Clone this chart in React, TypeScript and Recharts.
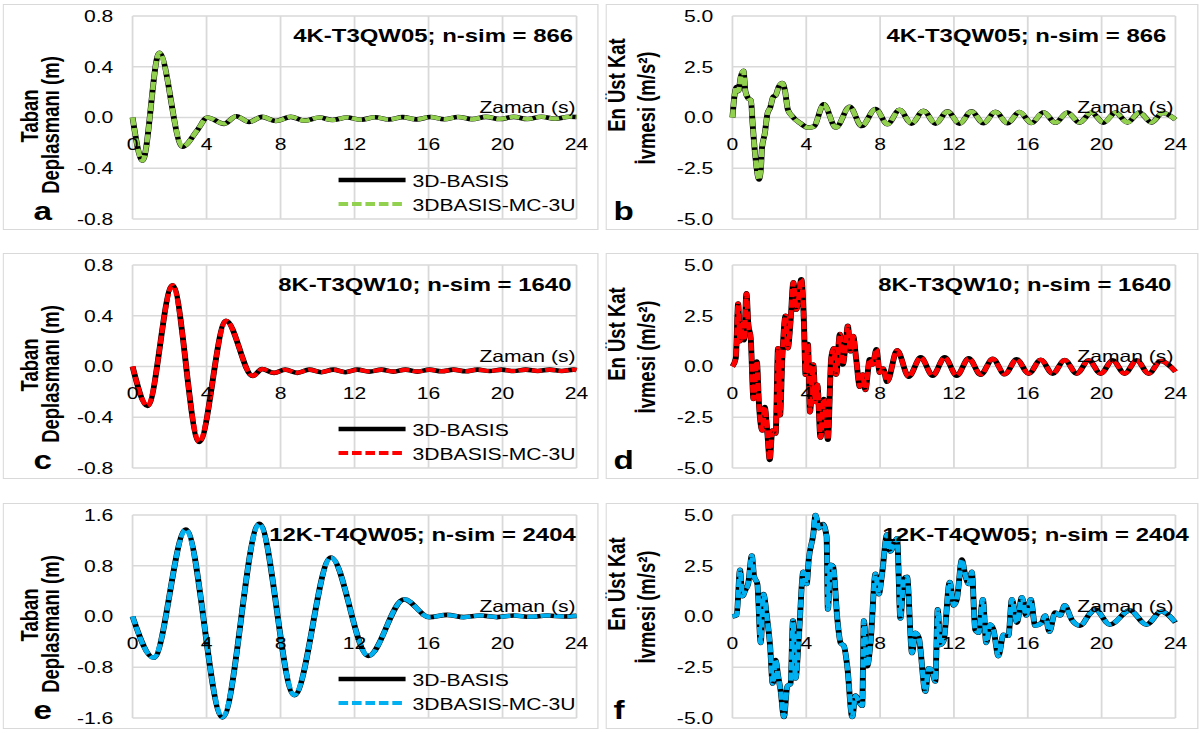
import React from 'react';
import { LineChart, Line, XAxis, YAxis, CartesianGrid } from 'recharts';

// the exported figure is stretched sideways, so everything is laid out narrow and scaled on x
const S = 1.28;
const px = (v: number) => v / S;
const FONT = '"Liberation Sans", Arial, sans-serif';

const TIME_TICKS = [0, 4, 8, 12, 16, 20, 24];
const DISP_TICKS = [-0.8, -0.4, 0, 0.4, 0.8];
const DISP_TICKS_12K = [-1.6, -0.8, 0, 0.8, 1.6];
const ACC_TICKS = [-5, -2.5, 0, 2.5, 5];

const SERIES_NAMES = ['3D-BASIS', '3DBASIS-MC-3U'];

// both programs give the same trace at this resolution, so one trace per panel is read
// a: 4K-T3QW05 base displacement (m)
const aTime = [0, 0.54, 1.44, 2.7, 3.5, 4.05, 4.95, 5.6, 6.3, 7.0, 7.75, 8.55, 9.3, 10.1, 10.8, 11.6, 12.35, 13.1, 13.85, 14.6, 15.35, 16.1, 16.85, 17.6, 18.35, 19.1, 19.85, 20.6, 21.35, 22.1, 22.85, 23.6, 24];
const aDisp = [0, -0.34, 0.51, -0.23, -0.1, 0.0, -0.05, 0.01, -0.035, 0.005, -0.027, 0.005, -0.025, 0.0, -0.02, 0.0, -0.018, 0.002, -0.016, 0.003, -0.015, 0.004, -0.014, 0.004, -0.013, 0.005, -0.012, 0.005, -0.012, 0.006, -0.01, 0.006, 0.004];

// b: 4K-T3QW05 top floor acceleration (m/s2)
const bTime = [0, 0.1, 0.22, 0.32, 0.45, 0.6, 0.7, 0.85, 1.0, 1.1, 1.25, 1.44, 1.55, 1.6, 1.75, 1.9, 2.05, 2.2, 2.35, 2.5, 2.7, 2.85, 3.0, 3.2, 3.7, 4.1, 4.4, 4.95, 5.6, 6.35, 7.0, 7.75, 8.4, 9.05, 9.7, 10.35, 11.0, 11.65, 12.3, 12.95, 13.6, 14.25, 14.9, 15.55, 16.2, 16.85, 17.5, 18.15, 18.8, 19.45, 20.1, 20.75, 21.4, 22.05, 22.7, 23.3, 24];
const bAcc = [0, 1.0, 1.5, 1.3, 2.0, 2.3, 1.3, 0.95, 0.85, -0.4, -2.0, -3.05, -2.4, -1.5, -0.8, 0.2, 0.5, 1.0, 1.1, 1.5, 1.7, 1.3, 0.4, 0.1, -0.3, -0.5, -0.45, 0.65, -0.5, 0.53, -0.42, 0.42, -0.33, 0.38, -0.3, 0.33, -0.3, 0.3, -0.3, 0.3, -0.28, 0.28, -0.28, 0.27, -0.27, 0.26, -0.26, 0.25, -0.25, 0.25, -0.25, 0.24, -0.24, 0.24, -0.24, 0.22, -0.1];

// c: 8K-T3QW10 base displacement (m)
const cTime = [0, 0.81, 2.16, 3.6, 5.05, 6.5, 7.0, 7.65, 8.25, 8.9, 9.55, 10.2, 10.85, 11.5, 12.15, 12.8, 13.45, 14.1, 14.75, 15.4, 16.05, 16.7, 17.35, 18.0, 18.65, 19.3, 19.95, 20.6, 21.25, 21.9, 22.55, 23.2, 23.85, 24];
const cDisp = [0, -0.31, 0.64, -0.595, 0.36, -0.075, -0.02, -0.05, -0.025, -0.05, -0.025, -0.045, -0.025, -0.045, -0.025, -0.04, -0.025, -0.04, -0.025, -0.04, -0.025, -0.038, -0.025, -0.038, -0.025, -0.036, -0.025, -0.036, -0.025, -0.035, -0.025, -0.035, -0.025, -0.028];

// d: 8K-T3QW10 top floor acceleration (m/s2)
const dTime = [0, 0.18, 0.31, 0.41, 0.54, 0.63, 0.76, 0.86, 0.99, 1.14, 1.32, 1.44, 1.62, 1.75, 1.89, 2.02, 2.16, 2.34, 2.47, 2.58, 2.7, 2.88, 3.0, 3.15, 3.3, 3.46, 3.57, 3.73, 3.87, 3.96, 4.09, 4.2, 4.38, 4.5, 4.6, 4.77, 4.95, 5.06, 5.17, 5.35, 5.5, 5.62, 5.82, 5.98, 6.13, 6.25, 6.4, 6.54, 6.7, 6.9, 7.06, 7.2, 7.44, 7.6, 7.8, 7.98, 8.16, 8.38, 8.92, 9.55, 10.2, 10.85, 11.5, 12.15, 12.8, 13.45, 14.1, 14.75, 15.4, 16.05, 16.7, 17.35, 18.0, 18.65, 19.3, 19.95, 20.6, 21.25, 21.9, 22.55, 23.2, 24];
const dAcc = [0, 0.4, 3.1, 1.25, 2.1, 1.3, 3.6, 2.1, 1.4, -1.6, 0.25, -1.9, -3.15, -2.0, -3.25, -4.6, -3.15, -3.3, 0.9, -2.4, 0.4, 2.5, 0.9, 2.25, 4.15, 2.8, 3.25, 4.3, 2.25, -0.4, 1.1, -2.25, 0.1, -1.75, -0.9, -3.5, -1.6, -2.4, -3.6, 0.4, 0.9, -0.4, 1.6, 0.1, 1.1, 2.0, 0.75, 1.5, 0.4, -1.0, -0.4, -1.15, 0.35, 0.1, 0.85, -0.3, -0.1, -0.75, 0.8, -0.5, 0.45, -0.45, 0.45, -0.45, 0.4, -0.4, 0.38, -0.38, 0.35, -0.35, 0.33, -0.35, 0.32, -0.35, 0.3, -0.35, 0.3, -0.35, 0.3, -0.35, 0.27, -0.25];

// e: 12K-T4QW05 base displacement (m)
const eTime = [0, 1.14, 2.88, 4.86, 6.85, 8.74, 10.72, 12.74, 14.68, 16.04, 17.0, 17.9, 18.8, 19.7, 20.6, 21.5, 22.4, 23.3, 24];
const eDisp = [0, -0.65, 1.37, -1.59, 1.46, -1.24, 0.93, -0.62, 0.27, -0.01, 0.025, -0.01, 0.015, -0.01, 0.015, -0.005, 0.015, 0.0, 0.01];

// f: 12K-T4QW05 top floor acceleration (m/s2)
const fTime = [0, 0.23, 0.41, 0.54, 0.72, 0.85, 1.05, 1.17, 1.35, 1.53, 1.68, 1.86, 2.04, 2.18, 2.34, 2.47, 2.61, 2.79, 2.97, 3.15, 3.28, 3.42, 3.6, 3.84, 4.02, 4.14, 4.38, 4.5, 4.68, 4.9, 5.1, 5.17, 5.32, 5.46, 5.68, 5.86, 6.04, 6.22, 6.49, 6.67, 6.85, 7.03, 7.12, 7.3, 7.48, 7.75, 7.93, 8.1, 8.38, 8.56, 8.74, 8.92, 9.1, 9.28, 9.46, 9.73, 9.91, 10.1, 10.45, 10.63, 10.81, 10.99, 11.12, 11.26, 11.44, 11.77, 11.98, 12.16, 12.43, 12.61, 12.8, 12.97, 13.15, 13.33, 13.57, 13.75, 13.96, 14.14, 14.41, 14.68, 14.95, 15.14, 15.41, 15.68, 15.91, 16.16, 16.4, 16.76, 16.94, 17.17, 17.48, 17.75, 18.0, 18.38, 18.83, 19.37, 19.64, 20.45, 21.53, 22.43, 23.24, 24];
const fAcc = [0, 0.07, 2.3, 1.0, 1.35, 1.6, 3.0, 2.0, 1.6, -1.3, 1.1, 0.05, -1.45, -3.3, -2.15, -2.9, -3.65, -4.95, -3.45, -3.3, -0.2, -3.05, -0.95, 2.2, 1.6, 2.85, 4.05, 5.0, 4.35, 4.55, 3.95, 0.35, 2.55, 2.45, -0.1, -1.3, -1.45, -2.45, -4.95, -3.9, -4.2, -4.4, -0.2, -2.45, -1.3, 2.1, 1.1, 2.05, 4.05, 3.2, 3.55, 3.85, -0.1, 1.85, 1.95, -1.8, -0.8, -1.05, -3.7, -2.55, -2.65, -3.2, 0.35, -1.4, -1.2, 1.7, 0.55, 0.85, 2.8, 2.05, 1.6, 2.2, -0.65, -0.8, 0.85, -1.3, -0.4, -0.65, -1.95, -0.9, -0.95, 0.85, -0.3, 0.95, 0.05, 0.85, -0.45, -0.3, 0.05, -0.75, 0.2, 0.05, 0.55, -0.15, -0.45, 0.15, 0.35, -0.4, 0.3, -0.4, 0.25, -0.3];

const BOX_H = 226;
const PLOT_TOP = 12;
const PLOT_H = 203;
const ZERO_Y = PLOT_TOP + PLOT_H / 2;

// yLabX: baseline of each rotated label line, yLabY: centre of each line (box coords)
const COLS = [
  { left: 3, width: 596, plotLeft: 130, rightGap: 22, zamanRight: 573, letterX: 31, yLabX: [35, 56], yLabY: [112, 121] },
  { left: 606, width: 593, plotLeft: 127, rightGap: 23, zamanRight: 568, letterX: 8, yLabX: [20, 50], yLabY: [81, 104] },
];
const ROW_TOPS = [4, 253, 503];

type PanelProps = {
  col: number;
  row: number;
  time: number[];
  values: number[];
  yTicks: number[];
  color: string;
  title: string;
  titleX: number;
  letter: string;
  yLabel: string[];
  legend: boolean;
};

// time labels sit just under the zero line, as in the original
function XTick(props: any) {
  const { x, payload } = props;
  return (
    <text x={x} y={ZERO_Y + 32.5} textAnchor="middle" fontSize={16.5} fill="#000" fontFamily={FONT}>
      {payload.value}
    </text>
  );
}

function Panel({ col, row, time, values, yTicks, color, title, titleX, letter, yLabel, legend }: PanelProps) {
  const c = COLS[col];
  const w = px(c.width);
  const rows = time.map((t, i) => ({ t, basis: values[i], mc: values[i] }));
  const lim = yTicks[yTicks.length - 1];

  return (
    <div style={{ position: 'absolute', left: px(c.left), top: ROW_TOPS[row], width: w, height: BOX_H }}>
      <LineChart
        width={w}
        height={BOX_H}
        data={rows}
        margin={{ top: PLOT_TOP, right: px(c.rightGap), bottom: BOX_H - PLOT_TOP - PLOT_H - 1, left: 0 }}
      >
        <CartesianGrid stroke="#d9d9d9" strokeWidth={1.4} />
        <XAxis
          dataKey="t"
          type="number"
          domain={[0, 24]}
          ticks={TIME_TICKS}
          interval={0}
          height={1}
          axisLine={false}
          tickLine={false}
          tick={(p: any) => <XTick {...p} />}
        />
        <YAxis
          type="number"
          domain={[-lim, lim]}
          ticks={yTicks}
          interval={0}
          width={px(c.plotLeft)}
          axisLine={false}
          tickLine={false}
          tickMargin={9}
          tickFormatter={(v: number) => v.toFixed(1)}
          tick={{ fontSize: 16.5, fill: '#000', fontFamily: FONT }}
        />
        <Line dataKey="basis" name={SERIES_NAMES[0]} type="monotone" stroke="#000" strokeWidth={4.6} dot={false} isAnimationActive={false} />
        <Line dataKey="mc" name={SERIES_NAMES[1]} type="monotone" stroke={color} strokeWidth={4} strokeDasharray="8 2.5" dot={false} isAnimationActive={false} />
      </LineChart>
      <svg width={w} height={BOX_H} style={{ position: 'absolute', left: 0, top: 0, pointerEvents: 'none' }} fontFamily={FONT}>
        <rect x={0.5} y={0.5} width={w - 1} height={BOX_H - 1} fill="none" stroke="#d9d9d9" strokeWidth={1} />
        <text x={px(titleX)} y={38} fontSize={18.7} fontWeight="bold" fill="#000">{title}</text>
        <text x={px(c.zamanRight)} y={ZERO_Y - 4.5} fontSize={16.5} textAnchor="end" fill="#000">Zaman (s)</text>
        <text x={px(c.letterX)} y={216} fontSize={26} fontWeight="bold" fill="#000">{letter}</text>
        {yLabel.map((s, i) => (
          <text
            key={s}
            transform={`translate(${px(c.yLabX[i])}, ${c.yLabY[i]}) rotate(-90)`}
            textAnchor="middle"
            fontSize={18.5}
            fontWeight="bold"
            fill="#000"
          >
            {s}
          </text>
        ))}
        {legend && (
          <g>
            <line x1={px(336)} x2={px(403)} y1={176} y2={176} stroke="#000" strokeWidth={4.4} />
            <text x={px(410)} y={183} fontSize={16.5} fill="#000">{SERIES_NAMES[0]}</text>
            <line x1={px(336)} x2={px(403)} y1={200} y2={200} stroke={color} strokeWidth={4.2} strokeDasharray="7.5 3" />
            <text x={px(410)} y={207} fontSize={16.5} fill="#000">{SERIES_NAMES[1]}</text>
          </g>
        )}
      </svg>
    </div>
  );
}

const DISP_LABEL = ['Taban', 'Deplasmanı (m)'];
const ACC_LABEL = ['En Üst Kat', 'İvmesi (m/s²)'];

export default function App() {
  return (
    <div style={{ position: 'absolute', left: 0, top: 0, width: 1203, height: 733, background: '#fff', overflow: 'hidden' }}>
      <div style={{ position: 'absolute', left: 0, top: 0, width: px(1203), height: 733, transform: `scaleX(${S})`, transformOrigin: '0 0' }}>
        <Panel col={0} row={0} time={aTime} values={aDisp} yTicks={DISP_TICKS} color="#92d050" title="4K-T3QW05; n-sim = 866" titleX={290.7} letter="a" yLabel={DISP_LABEL} legend />
        <Panel col={1} row={0} time={bTime} values={bAcc} yTicks={ACC_TICKS} color="#92d050" title="4K-T3QW05; n-sim = 866" titleX={281} letter="b" yLabel={ACC_LABEL} legend={false} />
        <Panel col={0} row={1} time={cTime} values={cDisp} yTicks={DISP_TICKS} color="#ff0000" title="8K-T3QW10; n-sim = 1640" titleX={275.7} letter="c" yLabel={DISP_LABEL} legend />
        <Panel col={1} row={1} time={dTime} values={dAcc} yTicks={ACC_TICKS} color="#ff0000" title="8K-T3QW10; n-sim = 1640" titleX={272.7} letter="d" yLabel={ACC_LABEL} legend={false} />
        <Panel col={0} row={2} time={eTime} values={eDisp} yTicks={DISP_TICKS_12K} color="#00b0f0" title="12K-T4QW05; n-sim = 2404" titleX={266.7} letter="e" yLabel={DISP_LABEL} legend />
        <Panel col={1} row={2} time={fTime} values={fAcc} yTicks={ACC_TICKS} color="#00b0f0" title="12K-T4QW05; n-sim = 2404" titleX={277} letter="f" yLabel={ACC_LABEL} legend={false} />
      </div>
    </div>
  );
}
